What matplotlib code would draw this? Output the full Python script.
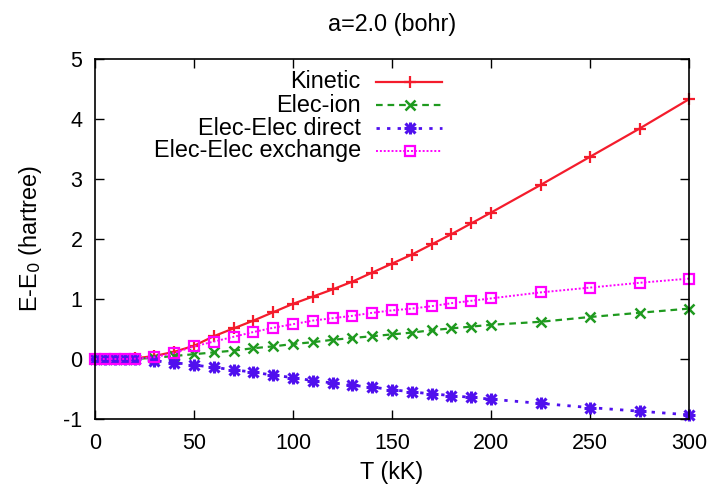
import matplotlib
matplotlib.use("Agg")
import matplotlib.pyplot as plt
from matplotlib.lines import Line2D

plt.rcParams['font.family'] = ['Liberation Sans', 'DejaVu Sans']
plt.rcParams['axes.unicode_minus'] = False

T = [0, 5, 10, 15, 20, 30, 40, 50, 60, 70, 80, 90, 100, 110, 120, 130, 140,
     150, 160, 170, 180, 190, 200, 225, 250, 275, 300]
kinetic = [0, 0, 0, 0, 0.01, 0.05, 0.12, 0.22, 0.38, 0.51, 0.64, 0.78, 0.92,
           1.04, 1.16, 1.29, 1.44, 1.59, 1.74, 1.91, 2.08, 2.26, 2.44, 2.90,
           3.37, 3.84, 4.33]
elec_ion = [0, 0, 0, 0, 0, 0.02, 0.05, 0.08, 0.11, 0.14, 0.18, 0.21, 0.25,
            0.28, 0.32, 0.35, 0.38, 0.41, 0.44, 0.48, 0.51, 0.54, 0.57, 0.62,
            0.70, 0.77, 0.84]
direct = [0, 0, 0, 0, 0, -0.03, -0.06, -0.10, -0.14, -0.18, -0.22, -0.27,
          -0.31, -0.36, -0.40, -0.44, -0.47, -0.51, -0.55, -0.58, -0.61,
          -0.64, -0.67, -0.74, -0.81, -0.87, -0.93]
exchange = [0, 0, 0, 0, 0.005, 0.03, 0.10, 0.21, 0.29, 0.37, 0.45, 0.52, 0.58,
            0.64, 0.68, 0.72, 0.77, 0.81, 0.84, 0.88, 0.93, 0.97, 1.01, 1.11,
            1.19, 1.27, 1.34]

labels = ["Kinetic", "Elec-ion", "Elec-Elec direct", "Elec-Elec exchange"]
xticks = [0, 50, 100, 150, 200, 250, 300]
yticks = [-1, 0, 1, 2, 3, 4, 5]

RED = "#f41c2c"
GREEN = "#1f9a1f"
PURPLE = "#5010ee"
MAGENTA = "#ff00ff"
FS_TICK = 15.5
FS = 16.8

fig = plt.figure(figsize=(7.14, 4.88), dpi=100)
ax = fig.add_axes([95/714, 1 - 419/488, 594/714, 360/488])

styles = [
    dict(color=RED, ls='-', lw=1.6, marker='+', ms=9, mew=1.6),
    dict(color=GREEN, ls=(0, (3.0, 2.2)), lw=1.6, marker='x', ms=7, mew=1.8),
    dict(color=PURPLE, ls=(0, (1.2, 2.6)), lw=2.0, marker='+', ms=9, mew=2.2),
    dict(color=MAGENTA, ls=(0, (1.0, 1.0)), lw=1.4, marker='s', ms=7.5, mew=1.6,
         mfc='none'),
]
series = [kinetic, elec_ion, direct, exchange]

for s, st in zip(series, styles):
    ax.plot(T, s, clip_on=False, **st)
    if st['color'] == PURPLE:
        ax.plot(T, s, ls='none', marker='x', ms=7, mew=2.2, color=PURPLE,
                clip_on=False)

ax.set_xlim(0, 300)
ax.set_ylim(-1, 5)
ax.set_xticks(xticks)
ax.set_yticks(yticks)
ax.tick_params(direction='in', length=6.5, width=1.0, top=True, right=True,
               labelsize=FS_TICK, pad=9, colors='black')
ax.tick_params(axis='x', pad=10)
for sp in ax.spines.values():
    sp.set_linewidth(1.2)

ax.set_xlabel("T (kK)", fontsize=FS, labelpad=5)
ax.set_ylabel("E-E$_0$ (hartree)", fontsize=FS, labelpad=14)
fig.text(392/714, 1 - 24/488, "a=2.0 (bohr)", ha='center', va='center',
         fontsize=FS)

# gnuplot-style legend: right-aligned text, sample line on the right
rows = [0.937, 0.872, 0.808, 0.745]
for lab, st, yy in zip(labels, styles, rows):
    ax.text(0.4475, yy, lab, transform=ax.transAxes, ha='right', va='center',
            fontsize=FS)
    lst = {k: v for k, v in st.items() if k not in ('marker', 'ms', 'mew', 'mfc')}
    ax.add_line(Line2D([0.473, 0.585], [yy, yy], transform=ax.transAxes, **lst))
    mk = dict(marker=st['marker'], ms=st['ms'], mew=st['mew'], color=st['color'],
              ls='none')
    if 'mfc' in st:
        mk['mfc'] = st['mfc']
    ax.add_line(Line2D([0.530], [yy], transform=ax.transAxes, **mk))
    if st['color'] == PURPLE:
        ax.add_line(Line2D([0.530], [yy], transform=ax.transAxes, marker='x',
                           ms=7, mew=2.2, color=PURPLE, ls='none'))

fig.savefig("out.png", dpi=100)
